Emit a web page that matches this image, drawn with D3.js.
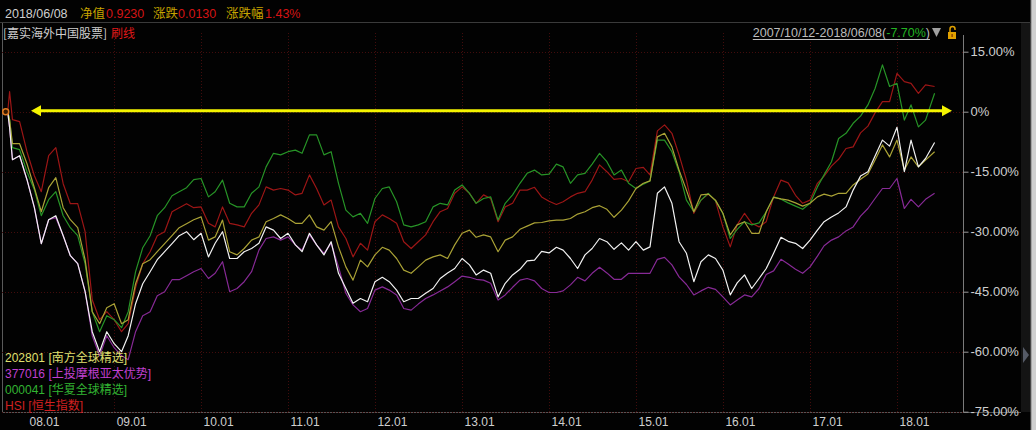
<!DOCTYPE html>
<html><head><meta charset="utf-8">
<script src="https://cdn.jsdelivr.net/npm/d3@7/dist/d3.min.js"></script>
<style>
html,body{margin:0;padding:0;background:#000;}
svg{display:block;}
</style></head>
<body><svg id="c" width="1036" height="430"></svg>
<script>
// ---- data ----
const startDate = new Date(2007, 9, 12);
const endDate = new Date(2018, 5, 8);
const dates = [startDate, new Date(2007, 9, 20)]
  .concat(d3.timeMonth.range(new Date(2007, 10, 1), new Date(2018, 5, 1)))
  .concat([endDate]);

const fundMain = [0,-4,-12,-11,-17,-24,-33,-27,-26,-31,-36,-38,-45,-55,-60,-55,-58,-60,-56,-48,-43,-40,-37,-35,-33,-31,-30,-32,
 -30.4,-36.3,-32.9,-30,-36.7,-36.7,-35,-34.2,-32.9,-28.8,-29.6,-31.7,
 -30.4,-33.3,-35,-30.4,-33.3,-35.8,-32.5,-40.4,-44.2,-47.9,-46.7,-47.5,
 -42.5,-41.4,-42.5,-44.6,-47.5,-46.7,-46.7,-45.4,-44.2,-41.7,-40.3,-39.2,
 -36.7,-38.3,-40.8,-39.6,-40.4,-46.3,-42.9,-40.8,-39.4,-37.3,-37.1,-34.9,
 -35.3,-33.9,-34.6,-36.7,-39.2,-35.8,-34.2,-31.7,-32.5,-34.4,-32.8,-34.6,
 -32.5,-34.6,-33.8,-20.4,-18.8,-22.9,-32.5,-35.4,-42.5,-37.5,-35.8,-36.7,
 -39.6,-45.8,-42.8,-40.8,-44.2,-41.7,-39.2,-35.4,-31.4,-32.4,-32.9,-34.2,
 -32.1,-29.6,-27.5,-26.3,-25.3,-23.8,-19.6,-16.1,-15,-11.1,-7.1,-8.6,
 -3.9,-15,-7.1,-13.8,-11.7,-7.7];

const s202801 = [0,-2,-8,-8,-13,-19,-25,-19,-16.5,-24,-27,-29,-37,-50,-53,-49,-48,-53,-52,-43,-38,-37,-35,-33,-31,-29,-28,-27,
 -26.3,-32.1,-31.3,-27.1,-35,-35.8,-34.2,-32.1,-31.3,-27.5,-26.7,-25.8,
 -26.7,-27.9,-27.9,-25.8,-28.8,-29.6,-27.5,-33.8,-38.8,-42.1,-37.1,-38.8,
 -35.8,-33.9,-34.6,-36.7,-39.6,-40.4,-38.8,-37.1,-36.3,-35.8,-36.7,-33.3,
 -30.4,-29.6,-31.4,-30.8,-31.3,-35,-32.1,-31.3,-29.4,-28.6,-27.8,-27.7,
 -27.3,-27.1,-27.1,-26.7,-25.6,-25,-24,-23.5,-24.4,-26.4,-24.6,-22.3,
 -19.2,-17.9,-17.3,-6.3,-5.4,-8.8,-14.6,-19.6,-25,-20.8,-20.6,-22.1,
 -25.4,-30.8,-28.3,-27.5,-30.4,-30.4,-25,-21.4,-21.8,-22.1,-22.8,-23.6,
 -22.9,-21.3,-20.6,-21.1,-20.4,-20.4,-18.3,-16.9,-15.6,-12.1,-8.3,-11.3,
 -7.1,-14.6,-11.3,-13.8,-12.1,-10];

const s377016 = [0,-4,-12,-11,-17,-24,-33,-27,-26.5,-31,-36,-38,-45,-56,-61,-56,-59,-61,-62,-55,-51,-50,-46,-45,-42,-42,-41,-40,
 -39.2,-41.7,-40.4,-37.5,-45,-44.2,-42.5,-40,-34.6,-31.7,-31.3,-32.1,
 -31.3,-33.3,-34.6,-30.8,-33.3,-35.4,-32.9,-38.8,-45.4,-48.3,-50,-49.2,
 -44.6,-43.8,-44.6,-45.8,-49.2,-49.6,-48.1,-46.7,-45.8,-44.8,-43.8,-42.5,
 -41.1,-41.4,-41.9,-42.1,-42.9,-47.1,-45.8,-43.9,-42.1,-41.7,-42.3,-44.2,
 -45.2,-45.2,-44.8,-43.3,-41.4,-42.3,-40.4,-38.9,-40.3,-41.9,-41.9,-40.4,
 -40.4,-40.4,-40.4,-36.9,-36.4,-38.3,-41.3,-43.2,-45.8,-44.8,-43.9,-44.4,
 -46.3,-48.3,-47.1,-45.8,-46.3,-44.2,-40.7,-39.8,-36.9,-38.1,-39.4,-40.4,
 -38.8,-36.1,-33.5,-32.1,-31.3,-29.8,-28.8,-26.1,-24.2,-21.7,-19.2,-19.2,
 -16.7,-24.2,-21.9,-23.8,-21.9,-20.4];

const s000041 = [0,-2,-9,-9.5,-15,-19.5,-26,-22,-20,-26,-29,-31,-38,-50,-55,-51,-52,-54,-50,-40,-34,-31,-26,-24,-21,-20,-19,-17,
 -16.7,-21.3,-20,-17.1,-22.9,-23.8,-23.8,-20.4,-18.8,-13.8,-10.4,-10.8,
 -10,-9.6,-10.4,-5.8,-5.8,-10.8,-10,-17.9,-24.6,-26.3,-25.4,-27.9,
 -21.7,-19.2,-18.8,-22.5,-28.3,-28.8,-28.3,-27.5,-23.8,-22.9,-23.3,-19.6,
 -18.3,-20.4,-22.9,-21.7,-21.3,-27.1,-22.9,-20.8,-17.9,-15.4,-14.6,-15.8,
 -15.6,-13.1,-13.8,-17.9,-15.8,-15.4,-13.1,-10.4,-12.5,-15.8,-14.6,-17.9,
 -19.2,-18.1,-17.3,-7.1,-7.1,-10,-15,-22.1,-25,-22.1,-20.4,-22.3,
 -25.4,-31.7,-29.4,-27.5,-28.3,-27.8,-25,-21.3,-21.9,-22.8,-23.6,-24.4,
 -22.9,-18.8,-15.8,-12.5,-6.7,-5.4,-2.9,-1.1,1.7,5.8,11.7,6.3,
 7.1,-2.1,1.7,-3.8,-2.1,4.6];

const sHSI = [0,5,-2,-2.5,-10,-16,-20,-11,-9,-18,-23,-23,-30,-47,-52,-50,-52,-55,-53,-44,-38,-35,-31,-30,-25,-24,-23,-24,
 -23.8,-27.9,-28.8,-23.8,-27.9,-28.3,-28.8,-25.4,-23.3,-18.8,-19.6,-19.2,
 -19.6,-20.8,-20.4,-15.8,-19.2,-23.3,-22.1,-28.8,-31.7,-36.3,-32.9,-34.6,
 -27.5,-25.8,-26.7,-27.9,-32.5,-34.2,-32.5,-30.8,-27.5,-25,-24.2,-20.4,
 -18.8,-20.4,-22.9,-20.8,-21.7,-27.5,-23.8,-22.9,-19.6,-19.6,-18.9,-21.3,
 -22.4,-23.2,-22.5,-21.3,-20.4,-20,-17.1,-13.3,-15,-16.9,-16.7,-17.5,
 -14.2,-13.9,-15.8,-4.8,-3.3,-5.4,-10.8,-17.1,-25.4,-22.1,-20.6,-22.3,
 -28.8,-33.8,-28.3,-25.4,-27.9,-28.8,-27.5,-21.3,-17.1,-17.8,-20.9,-22.9,
 -22.1,-17.9,-16.1,-13.6,-11.9,-9.2,-8.8,-5.3,-3.6,-0.3,2.5,2.5,
 9.6,7.5,7.1,4.6,6.7,6.3];

const yTicks = [15, 0, -15, -30, -45, -60, -75];
const yTickLabels = ["15.00%", "0%", "-15.00%", "-30.00%", "-45.00%", "-60.00%", "-75.00%"];
const xTickDates = d3.range(2008, 2019).map(yr => new Date(yr, 0, 1));
const xTickLabels = ["08.01","09.01","10.01","11.01","12.01","13.01","14.01","15.01","16.01","17.01","18.01"];

const legendCodes = ["202801", "377016", "000041", "HSI"];
const legendNames = ["[南方全球精选]", "[上投摩根亚太优势]", "[华夏全球精选]", "[恒生指数]"];

// ---- drawing ----
const svg = d3.select("#c");
const W = 1036, H = 430;
const plotL = 2, plotR = 963, plotT = 23, plotB = 412;

const x = d3.scaleTime().domain([startDate, endDate]).range([7.7, 934.6]);
const y = d3.scaleLinear().domain([-75, 15]).range([411.7, 51.7]);

svg.append("rect").attr("width", W).attr("height", H).attr("fill", "#020202");

// right side panel
svg.append("rect").attr("x", 1021).attr("y", 23).attr("width", 10).attr("height", 389).attr("fill", "#141414");
svg.append("path").attr("d", "M1023,347 L1029,355 L1023,363 Z").attr("fill", "#555a66");
svg.append("rect").attr("x", 1031).attr("y", 0).attr("width", 5).attr("height", H).attr("fill", "#cfcfcf");
svg.append("line").attr("x1", 1031).attr("x2", 1031).attr("y1", 0).attr("y2", H).attr("stroke", "#7a7a7a");

// frame lines
svg.append("line").attr("x1", 0).attr("x2", 1031).attr("y1", 22.5).attr("y2", 22.5).attr("stroke", "#3a3a3a");
svg.append("line").attr("x1", 2.5).attr("x2", 2.5).attr("y1", 23).attr("y2", plotB).attr("stroke", "#5a5a5a");
svg.append("line").attr("x1", 2).attr("x2", 1021).attr("y1", plotB + 0.5).attr("y2", plotB + 0.5).attr("stroke", "#555");

// grid
const grid = svg.append("g");
grid.selectAll("line.h").data(yTicks).join("line")
  .attr("x1", plotL).attr("x2", plotR)
  .attr("y1", d => Math.round(y(d)) + 0.5).attr("y2", d => Math.round(y(d)) + 0.5)
  .attr("stroke", "#420c0c").attr("stroke-dasharray", "1,2");
grid.selectAll("line.v").data(xTickDates.slice(1)).join("line")
  .attr("x1", d => Math.round(x(d)) + 0.5).attr("x2", d => Math.round(x(d)) + 0.5)
  .attr("y1", plotT + 10).attr("y2", plotB)
  .attr("stroke", "#420c0c").attr("stroke-dasharray", "1,2");

// y axis on right
const yAxis = d3.axisRight(y).tickValues(yTicks).tickSize(5).tickPadding(2)
  .tickFormat((d, i) => yTickLabels[i]);
const gy = svg.append("g").attr("transform", `translate(${plotR + 0.5},0)`).call(yAxis);
gy.select(".domain").attr("stroke", "#7a7a7a").attr("d", `M0,${plotT + 12}V${plotB}`);
gy.selectAll(".tick line").attr("stroke", "#9a9a9a");
gy.selectAll(".tick text").attr("fill", "#cfcfcf").attr("font-family", "Liberation Sans, Arial, sans-serif")
  .attr("font-size", 13);

// x axis labels
const xAxis = d3.axisBottom(x).tickValues(xTickDates).tickSize(0).tickPadding(0)
  .tickFormat((d, i) => xTickLabels[i]);
const gx = svg.append("g").attr("transform", `translate(0,${plotB})`).call(xAxis);
gx.select(".domain").remove();
gx.selectAll(".tick text").attr("fill", "#cfcfcf").attr("font-family", "Liberation Sans, Arial, sans-serif")
  .attr("font-size", 12).attr("text-anchor", "start").attr("dx", 2).attr("dy", 0).attr("y", 14);

// series lines
const line = d3.line().x((d, i) => x(dates[i])).y(d => y(d));
const seriesDraw = [
  {data: sHSI, color: "#9c1616"},
  {data: s000041, color: "#279427"},
  {data: s377016, color: "#872a96"},
  {data: s202801, color: "#aaa236"},
  {data: fundMain, color: "#f2f2f2"}
];
svg.append("g").selectAll("path").data(seriesDraw).join("path")
  .attr("d", d => line(d.data)).attr("fill", "none")
  .attr("stroke", d => d.color).attr("stroke-width", 1.2).attr("stroke-linejoin", "round");

// start marker
svg.append("circle").attr("cx", x(startDate) - 2).attr("cy", y(0)).attr("r", 3)
  .attr("fill", "#3a1a00").attr("stroke", "#e07a20").attr("stroke-width", 1.5);

// yellow arrow at 0%
const ay = y(0) - 1;
const ag = svg.append("g").attr("fill", "#f4f400").attr("stroke", "none");
svg.append("line").attr("x1", 38).attr("x2", 944).attr("y1", ay).attr("y2", ay)
  .attr("stroke", "#f4f400").attr("stroke-width", 3);
ag.append("path").attr("d", `M31,${ay} L41,${ay - 5.5} L41,${ay + 5.5} Z`);
ag.append("path").attr("d", `M952,${ay} L942,${ay - 5.5} L942,${ay + 5.5} Z`);

// header row 1
const f1 = "Liberation Sans, Noto Sans CJK SC, sans-serif";
const hdr = [
  {t: "2018/06/08", x: 5, c: "#cfcfcf"},
  {t: "净值", x: 80, c: "#c8a400"},
  {t: "0.9230", x: 106, c: "#d41414"},
  {t: "涨跌", x: 153, c: "#c8a400"},
  {t: "0.0130", x: 178, c: "#d41414"},
  {t: "涨跌幅", x: 226, c: "#c8a400"},
  {t: "1.43%", x: 265, c: "#d41414"}
];
svg.append("g").selectAll("text").data(hdr).join("text")
  .attr("x", d => d.x).attr("y", 18).attr("fill", d => d.c)
  .attr("font-family", f1).attr("font-size", 12.5).text(d => d.t);

// header row 2
svg.append("text").attr("x", 3).attr("y", 38).attr("fill", "#cfcfcf")
  .attr("font-family", "Noto Sans CJK SC, sans-serif").attr("font-size", 12).text("[嘉实海外中国股票]");
svg.append("text").attr("x", 111).attr("y", 38).attr("fill", "#e01818")
  .attr("font-family", "Noto Sans CJK SC, sans-serif").attr("font-size", 12).text("刷线");

// right header
const rh = svg.append("text").attr("y", 37).attr("font-family", f1).attr("font-size", 12.5);
rh.append("tspan").attr("fill", "#bdbdbd").text("2007/10/12-2018/06/08(");
rh.append("tspan").attr("fill", "#22b422").text("-7.70%");
rh.append("tspan").attr("fill", "#bdbdbd").text(")");
const rw = rh.node().getComputedTextLength();
rh.attr("x", 930 - rw);
svg.append("line").attr("x1", 930 - rw).attr("x2", 930).attr("y1", 39.5).attr("y2", 39.5)
  .attr("stroke", "#bdbdbd").attr("stroke-width", 1);
svg.append("path").attr("d", "M932,28 L941,28 L936.5,37 Z").attr("fill", "#a0a0a0");
// lock icon
svg.append("rect").attr("x", 948).attr("y", 32).attr("width", 8).attr("height", 7).attr("fill", "#e0a000");
svg.append("path").attr("d", "M950,32 V29 A2.5,2.5 0 0 1 955,29 V30").attr("fill", "none")
  .attr("stroke", "#e0a000").attr("stroke-width", 1.5);
svg.append("rect").attr("x", 951.5).attr("y", 34).attr("width", 1.2).attr("height", 3).attr("fill", "#7a3000");

// legend
const legColors = ["#e0e070", "#c040d0", "#32b432", "#d02020"];
const lg = svg.append("g");
legendCodes.forEach((c, i) => {
  const t = lg.append("text").attr("x", 5).attr("y", 362 + i * 16)
    .attr("font-family", f1).attr("font-size", 12).attr("fill", legColors[i]);
  t.text(c + " " + legendNames[i]);
});
</script>
</body></html>
